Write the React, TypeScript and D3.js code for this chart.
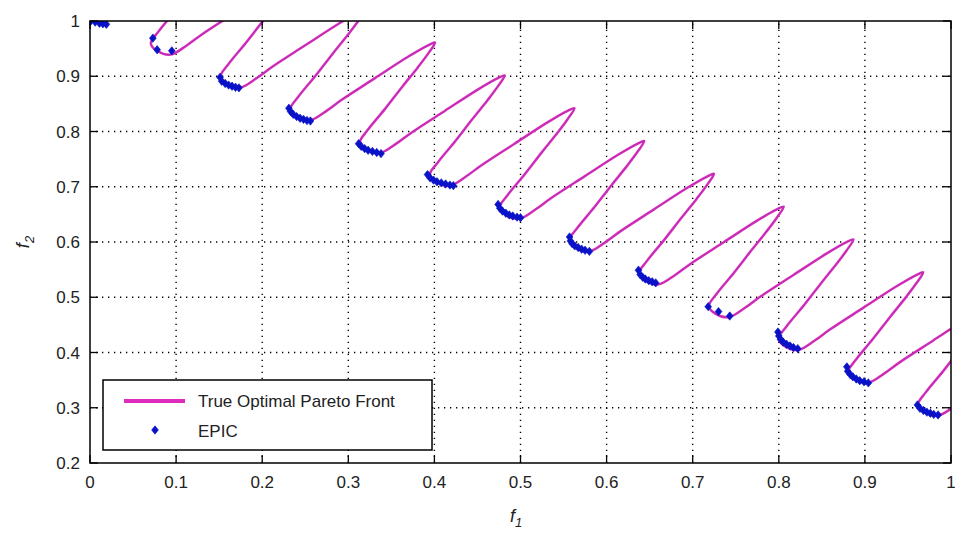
import React from 'react';
import * as d3 from 'd3';

const frontPoints: [number, number][] = [
  [0.0, 1.0], [0.0127, 0.9986], [0.0317, 1.0156], [0.0493, 1.0355], [0.088, 1.0748], [0.1268, 1.1139], [0.1497, 1.1342],
  [0.1577, 1.1392], [0.1497, 1.1192], [0.1377, 1.0942], [0.1197, 1.0592], [0.0997, 1.0192], [0.0797, 0.9812], [0.0707, 0.9592],
  [0.0787, 0.9452], [0.0937, 0.9392], [0.1127, 0.9562], [0.1303, 0.9761], [0.169, 1.0154], [0.2078, 1.0545], [0.2307, 1.0748],
  [0.2387, 1.0798], [0.2307, 1.0598], [0.2187, 1.0348], [0.2007, 0.9998], [0.1807, 0.9598], [0.1607, 0.9218], [0.1517, 0.8998],
  [0.1597, 0.8858], [0.1747, 0.8798], [0.1937, 0.8968], [0.2113, 0.9167], [0.25, 0.956], [0.2888, 0.9951], [0.3117, 1.0154],
  [0.3197, 1.0204], [0.3117, 1.0004], [0.2997, 0.9754], [0.2817, 0.9404], [0.2617, 0.9004], [0.2417, 0.8624], [0.2327, 0.8404],
  [0.2407, 0.8264], [0.2557, 0.8204], [0.2747, 0.8374], [0.2923, 0.8573], [0.331, 0.8966], [0.3698, 0.9357], [0.3927, 0.956],
  [0.4007, 0.961], [0.3927, 0.941], [0.3807, 0.916], [0.3627, 0.881], [0.3427, 0.841], [0.3227, 0.803], [0.3137, 0.781],
  [0.3217, 0.767], [0.3367, 0.761], [0.3557, 0.778], [0.3733, 0.7979], [0.412, 0.8372], [0.4508, 0.8763], [0.4737, 0.8966],
  [0.4817, 0.9016], [0.4737, 0.8816], [0.4617, 0.8566], [0.4437, 0.8216], [0.4237, 0.7816], [0.4037, 0.7436], [0.3947, 0.7216],
  [0.4027, 0.7076], [0.4177, 0.7016], [0.4367, 0.7186], [0.4543, 0.7385], [0.493, 0.7778], [0.5318, 0.8169], [0.5547, 0.8372],
  [0.5627, 0.8422], [0.5547, 0.8222], [0.5427, 0.7972], [0.5247, 0.7622], [0.5047, 0.7222], [0.4847, 0.6842], [0.4757, 0.6622],
  [0.4837, 0.6482], [0.4987, 0.6422], [0.5177, 0.6592], [0.5353, 0.6791], [0.574, 0.7184], [0.6128, 0.7575], [0.6357, 0.7778],
  [0.6437, 0.7828], [0.6357, 0.7628], [0.6237, 0.7378], [0.6057, 0.7028], [0.5857, 0.6628], [0.5657, 0.6248], [0.5567, 0.6028],
  [0.5647, 0.5888], [0.5797, 0.5828], [0.5987, 0.5998], [0.6163, 0.6197], [0.655, 0.659], [0.6938, 0.6981], [0.7167, 0.7184],
  [0.7247, 0.7234], [0.7167, 0.7034], [0.7047, 0.6784], [0.6867, 0.6434], [0.6667, 0.6034], [0.6467, 0.5654], [0.6377, 0.5434],
  [0.6457, 0.5294], [0.6607, 0.5234], [0.6797, 0.5404], [0.6973, 0.5603], [0.736, 0.5996], [0.7748, 0.6387], [0.7977, 0.659],
  [0.8057, 0.664], [0.7977, 0.644], [0.7857, 0.619], [0.7677, 0.584], [0.7477, 0.544], [0.7277, 0.506], [0.7187, 0.484],
  [0.7267, 0.47], [0.7417, 0.464], [0.7607, 0.481], [0.7783, 0.5009], [0.817, 0.5402], [0.8558, 0.5793], [0.8787, 0.5996],
  [0.8867, 0.6046], [0.8787, 0.5846], [0.8667, 0.5596], [0.8487, 0.5246], [0.8287, 0.4846], [0.8087, 0.4466], [0.7997, 0.4246],
  [0.8077, 0.4106], [0.8227, 0.4046], [0.8417, 0.4216], [0.8593, 0.4415], [0.898, 0.4808], [0.9368, 0.5199], [0.9597, 0.5402],
  [0.9677, 0.5452], [0.9597, 0.5252], [0.9477, 0.5002], [0.9297, 0.4652], [0.9097, 0.4252], [0.8897, 0.3872], [0.8807, 0.3652],
  [0.8887, 0.3512], [0.9037, 0.3452], [0.9227, 0.3622], [0.9403, 0.3821], [0.979, 0.4214], [1.0178, 0.4605], [1.0407, 0.4808],
  [1.0487, 0.4858], [1.0407, 0.4658], [1.0287, 0.4408], [1.0107, 0.4058], [0.9907, 0.3658], [0.9707, 0.3278], [0.9617, 0.3058],
  [0.9697, 0.2918], [0.9847, 0.2858], [1.0037, 0.3028],
];

// EPIC solutions
const epicPoints: [number, number][] = [
  [0.001, 1.0], [0.006, 0.998], [0.011, 0.996], [0.015, 0.995], [0.019, 0.994],
  [0.073, 0.969], [0.078, 0.948], [0.095, 0.946],
  [0.151, 0.898], [0.153, 0.891], [0.157, 0.887], [0.161, 0.884], [0.165, 0.882], [0.169, 0.88], [0.173, 0.879],
  [0.231, 0.842], [0.233, 0.836], [0.236, 0.831], [0.24, 0.827], [0.244, 0.824], [0.248, 0.822], [0.252, 0.82], [0.256, 0.819],
  [0.312, 0.778], [0.315, 0.773], [0.319, 0.769], [0.323, 0.766], [0.328, 0.764], [0.333, 0.762], [0.338, 0.76],
  [0.392, 0.722], [0.395, 0.716], [0.399, 0.712], [0.403, 0.709], [0.408, 0.707], [0.413, 0.705], [0.418, 0.703], [0.422, 0.702],
  [0.474, 0.668], [0.476, 0.661], [0.479, 0.656], [0.483, 0.652], [0.487, 0.649], [0.491, 0.647], [0.496, 0.645], [0.5, 0.644],
  [0.557, 0.609], [0.558, 0.602], [0.56, 0.597], [0.563, 0.593], [0.567, 0.59], [0.571, 0.587], [0.575, 0.585], [0.58, 0.583],
  [0.637, 0.549], [0.639, 0.541], [0.642, 0.536], [0.645, 0.533], [0.649, 0.53], [0.653, 0.528], [0.657, 0.526],
  [0.718, 0.483], [0.73, 0.474], [0.743, 0.466],
  [0.799, 0.437], [0.8, 0.43], [0.802, 0.424], [0.805, 0.419], [0.809, 0.415], [0.813, 0.412], [0.817, 0.409], [0.822, 0.407],
  [0.879, 0.374], [0.88, 0.366], [0.883, 0.36], [0.886, 0.356], [0.89, 0.352], [0.894, 0.349], [0.899, 0.347], [0.904, 0.345],
  [0.961, 0.305], [0.964, 0.299], [0.968, 0.295], [0.972, 0.292], [0.976, 0.29], [0.98, 0.288], [0.985, 0.287],
];

const xTicks = [0, 0.1, 0.2, 0.3, 0.4, 0.5, 0.6, 0.7, 0.8, 0.9, 1];
const yTicks = [0.2, 0.3, 0.4, 0.5, 0.6, 0.7, 0.8, 0.9, 1];
const legendLabels = ['True Optimal Pareto Front', 'EPIC'];

const W = 955;
const H = 535;
const left = 90, right = 951, top = 21, bottom = 463;
const font = '"Liberation Sans", Arial, sans-serif';
const lineColor = '#e02cbc';
const markerColor = '#0a12c8';

const diamond = 'M0,-4.2L3.4,0L0,4.2L-3.4,0Z';

export default function App() {
  const x = d3.scaleLinear().domain([0, 1]).range([left, right]);
  const y = d3.scaleLinear().domain([0.2, 1]).range([bottom, top]);

  const line = d3.line<[number, number]>()
    .x(d => x(d[0]))
    .y(d => y(d[1]))
    .curve(d3.curveCatmullRom.alpha(0.5));
  const path = line(frontPoints) || '';

  return (
    <div style={{ position: 'absolute', left: 0, top: 0 }}>
      <svg width={W} height={H} style={{ display: 'block', background: '#fff' }}>
        <defs>
          <clipPath id="plotClip">
            <rect x={left} y={top} width={right - left} height={bottom - top} />
          </clipPath>
        </defs>

        {/* grid */}
        <g stroke="#000" strokeWidth={1.4} strokeDasharray="1.3,4.7">
          {xTicks.slice(1, -1).map(t => (
            <line key={'gx' + t} x1={x(t)} x2={x(t)} y1={bottom} y2={top} />
          ))}
          {yTicks.slice(1, -1).map(t => (
            <line key={'gy' + t} x1={left} x2={right} y1={y(t)} y2={y(t)} />
          ))}
        </g>

        {/* front */}
        <g clipPath="url(#plotClip)">
          <path d={path} fill="none" stroke={lineColor} strokeWidth={2.5} strokeLinejoin="round" />
          <path d={path} fill="none" stroke="#7a3aa8" strokeWidth={0.9} strokeOpacity={0.55} />
          {epicPoints.map((p, i) => (
            <path key={i} d={diamond} transform={`translate(${x(p[0])},${y(p[1])})`} fill={markerColor} stroke={markerColor} strokeWidth={0.6} />
          ))}
        </g>

        {/* box + ticks */}
        <rect x={left} y={top} width={right - left} height={bottom - top} fill="none" stroke="#000" strokeWidth={1.5} />
        <g stroke="#000" strokeWidth={1.3}>
          {xTicks.map(t => (
            <g key={'tx' + t}>
              <line x1={x(t)} x2={x(t)} y1={bottom} y2={bottom - 8} />
              <line x1={x(t)} x2={x(t)} y1={top} y2={top + 8} />
            </g>
          ))}
          {yTicks.map(t => (
            <g key={'ty' + t}>
              <line x1={left} x2={left + 8} y1={y(t)} y2={y(t)} />
              <line x1={right} x2={right - 8} y1={y(t)} y2={y(t)} />
            </g>
          ))}
        </g>

        {/* tick labels */}
        <g fontFamily={font} fontSize={17} fill="#222">
          {xTicks.map(t => (
            <text key={'lx' + t} x={x(t)} y={488} textAnchor="middle">{d3.format('~g')(t)}</text>
          ))}
          {yTicks.map(t => (
            <text key={'ly' + t} x={80} y={y(t) + 6} textAnchor="end">{d3.format('~g')(t)}</text>
          ))}
        </g>

        {/* axis labels */}
        <text x={516} y={522} fontFamily={font} fontSize={18} fontStyle="italic" fill="#222" textAnchor="middle">
          f<tspan fontSize={13} dy={5}>1</tspan>
        </text>
        <text transform="translate(29,242) rotate(-90)" fontFamily={font} fontSize={18} fontStyle="italic" fill="#222" textAnchor="middle">
          f<tspan fontSize={13} dy={5}>2</tspan>
        </text>

        {/* legend */}
        <g>
          <rect x={103} y={380} width={329} height={70} fill="#fff" stroke="#000" strokeWidth={1.5} />
          <line x1={124} x2={185} y1={401} y2={401} stroke={lineColor} strokeWidth={4} />
          <path d={diamond} transform="translate(155,430)" fill={markerColor} stroke={markerColor} strokeWidth={0.6} />
          <text x={198} y={407} fontFamily={font} fontSize={17} fill="#222">{legendLabels[0]}</text>
          <text x={198} y={437} fontFamily={font} fontSize={17} fill="#222">{legendLabels[1]}</text>
        </g>
      </svg>
    </div>
  );
}
